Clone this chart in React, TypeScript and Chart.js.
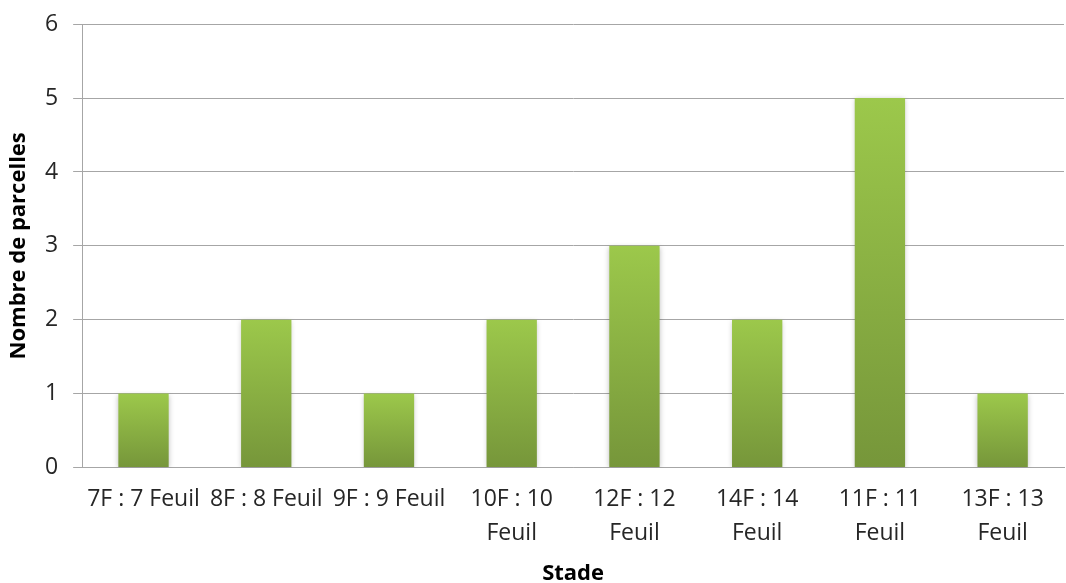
import React, { useEffect, useRef } from "react";
import { Chart, registerables } from "chart.js";

Chart.register(...registerables);

const categories: (string | string[])[] = [
  "7F : 7 Feuil",
  "8F : 8 Feuil",
  "9F : 9 Feuil",
  ["10F : 10", "Feuil"],
  ["12F : 12", "Feuil"],
  ["14F : 14", "Feuil"],
  ["11F : 11", "Feuil"],
  ["13F : 13", "Feuil"],
];
const parcelles = [1, 2, 1, 2, 3, 2, 5, 1];
const yTicks = [0, 1, 2, 3, 4, 5, 6];

const FONT = "'Open Sans', 'Noto Sans', sans-serif";

const shadowPlugin = {
  id: "barShadow",
  beforeDatasetsDraw(chart: any) {
    const ctx = chart.ctx;
    ctx.save();
    ctx.shadowColor = "rgba(0,0,0,0.25)";
    ctx.shadowBlur = 5;
    ctx.shadowOffsetX = 0;
    ctx.shadowOffsetY = 1;
  },
  afterDatasetsDraw(chart: any) {
    chart.ctx.restore();
  },
};

export default function App() {
  const ref = useRef<HTMLCanvasElement | null>(null);
  useEffect(() => {
    if (!ref.current) return;
    const chart = new Chart(ref.current, {
      type: "bar",
      data: {
        labels: categories,
        datasets: [
          {
            data: parcelles,
            borderWidth: 0,
            barPercentage: 0.41,
            categoryPercentage: 1,
            backgroundColor: (c: any) => {
              const ch = c.chart;
              const ys = ch.scales?.y;
              if (!ch.chartArea || !ys || c.raw == null) return "#8BB043";
              const top = ys.getPixelForValue(c.raw);
              const bottom = ys.getPixelForValue(0);
              if (!isFinite(top) || !isFinite(bottom) || top === bottom) return "#8BB043";
              const g = ch.ctx.createLinearGradient(0, top, 0, bottom);
              g.addColorStop(0, "#9CC84B");
              g.addColorStop(1, "#76963A");
              return g;
            },
          },
        ],
      },
      options: {
        animation: false,
        responsive: false,
        devicePixelRatio: 1,
        layout: { padding: { top: 1, right: 2, left: 8, bottom: 0 } },
        plugins: { legend: { display: false }, tooltip: { enabled: false } },
        scales: {
          x: {
            grid: { display: false, drawTicks: false },
            border: { display: true, color: "#a6a6a6", width: 1 },
            ticks: {
              color: "#262626",
              font: { family: FONT, size: 23, lineHeight: 1.52 },
              maxRotation: 0,
              autoSkip: false,
              padding: 14,
            },
            title: {
              display: true,
              text: "Stade",
              color: "#000",
              font: { family: FONT, size: 22, weight: "bold", lineHeight: 0.8 },
              padding: { top: 0, bottom: 0 },
            },
          },
          y: {
            min: 0,
            max: 6,
            afterBuildTicks: (s: any) => {
              s.ticks = yTicks.map((v) => ({ value: v }));
            },
            grid: { color: "#a6a6a6", lineWidth: 1, tickLength: 9 },
            border: { display: true, color: "#a6a6a6", width: 1 },
            ticks: {
              color: "#262626",
              font: { family: FONT, size: 23, lineHeight: 0.8 },
              padding: 15,
            },
            title: {
              display: true,
              text: "Nombre de parcelles",
              color: "#000",
              font: { family: FONT, size: 22, weight: "bold", lineHeight: 1 },
              padding: { top: 0, bottom: 0 },
            },
          },
        },
      },
      plugins: [shadowPlugin],
    });
    return () => chart.destroy();
  }, []);
  return (
    <div style={{ position: "fixed", left: 0, top: 0, width: 1066, height: 583, background: "#fff" }}>
      <canvas ref={ref} width={1066} height={583} style={{ width: 1066, height: 583 }} />
    </div>
  );
}
